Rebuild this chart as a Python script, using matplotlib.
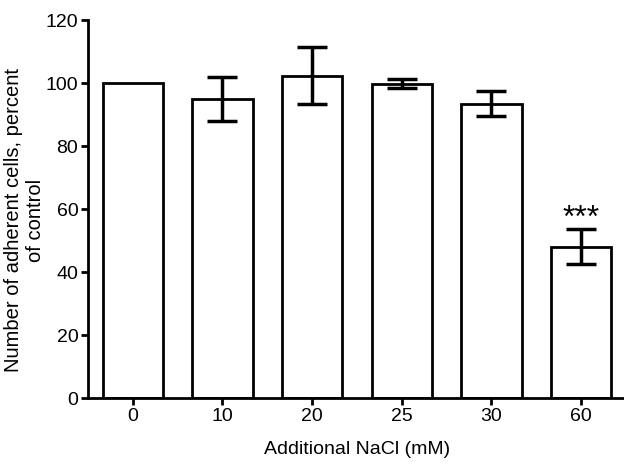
import matplotlib
matplotlib.use("Agg")
import matplotlib.pyplot as plt

plt.rcParams['font.family'] = ['Liberation Sans', 'DejaVu Sans']

# NaCl concentrations and adherent cell counts (percent of control)
categories = ["0", "10", "20", "25", "30", "60"]
means = [100, 95, 102.3, 99.8, 93.4, 48]
errors = [0, 7, 9, 1.5, 4, 5.6]
significance = ["", "", "", "", "", "***"]

fig = plt.figure(figsize=(6.24, 4.65), dpi=100)
ax = fig.add_axes([88 / 624, 67 / 465, 538 / 624, 378 / 465])

x = range(len(categories))
ax.bar(x, means, width=0.67, color="white", edgecolor="black", linewidth=2)
ax.errorbar(x, means, yerr=[e if e > 0 else float('nan') for e in errors],
            fmt='none', ecolor="black", elinewidth=2.5, capsize=11, capthick=2.5)

for i, s in enumerate(significance):
    if s:
        ax.text(i, means[i] + errors[i] + 0.6, s, ha="center", va="baseline",
                fontsize=23)

ax.set_xlim(-0.5, 5.5)
ax.set_ylim(0, 120)
ax.set_yticks(range(0, 121, 20))
ax.set_xticks(list(x))
ax.set_xticklabels(categories)

for side in ["top", "right"]:
    ax.spines[side].set_visible(False)
for side in ["left", "bottom"]:
    ax.spines[side].set_linewidth(2)
ax.tick_params(direction="out", length=5, width=2, labelsize=14, pad=2)

ax.set_xlabel("Additional NaCl (mM)", fontsize=14, labelpad=12)
ax.set_ylabel("Number of adherent cells, percent\nof control", fontsize=14.5)
ax.yaxis.set_label_coords(-0.08, 0.47)

fig.savefig("out.png", dpi=100)
